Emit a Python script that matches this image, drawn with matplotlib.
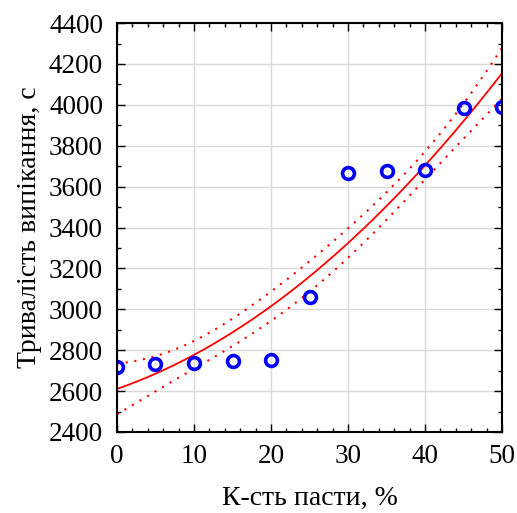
import numpy as np
import matplotlib.pyplot as plt
from matplotlib.ticker import MultipleLocator

plt.rcParams['font.family'] = ['Liberation Serif', 'DejaVu Serif']

paste = [0, 5, 10, 15, 20, 25, 30, 35, 40, 45, 50]
duration = [2720, 2730, 2735, 2745, 2752, 3060, 3668, 3675, 3682, 3985, 3990]

x = np.array(paste, dtype=float)
y = np.array(duration, dtype=float)

# квадратична регресія + довірча смуга
coef = np.polyfit(x, y, 2)
X = np.vander(x, 3)
resid = y - X @ coef
dof = len(x) - 3
s2 = resid @ resid / dof
cov = s2 * np.linalg.inv(X.T @ X)
k = 0.85  # ширина смуги, підібрана під оригінал

xs = np.linspace(0, 50, 200)
Xs = np.vander(xs, 3)
ys = Xs @ coef
se = np.sqrt(np.einsum('ij,jk,ik->i', Xs, cov, Xs))

fig = plt.figure(figsize=(5.17, 5.13), dpi=100)
ax = fig.add_axes([0.2263, 0.158, 0.7447, 0.797])

ax.plot(xs, ys, color='red', lw=1.3)
ax.plot(xs, ys + k * se, color='red', lw=1.5, ls=(0, (1, 3.2)))
ax.plot(xs, ys - k * se, color='red', lw=1.5, ls=(0, (1, 3.2)))
ax.plot(x, y, 'o', mfc='none', mec='blue', mew=2.6, ms=8.5)

ax.set_xlim(0, 50)
ax.set_ylim(2400, 4400)
ax.xaxis.set_major_locator(MultipleLocator(10))
ax.xaxis.set_minor_locator(MultipleLocator(2))
ax.yaxis.set_major_locator(MultipleLocator(200))
ax.yaxis.set_minor_locator(MultipleLocator(100))
ax.tick_params(which='both', direction='in', top=True, right=True, labelsize=19.5)
ax.tick_params(which='major', length=6, width=1)
ax.tick_params(which='minor', length=3, width=1)
ax.tick_params(axis='x', pad=9)
ax.tick_params(axis='y', pad=10)
ax.grid(True, which='major', color='#d9d9d9', lw=1)
ax.set_axisbelow(True)
for sp in ax.spines.values():
    sp.set_linewidth(1.5)

ax.set_xlabel('К-сть пасти, %', fontsize=20, labelpad=12)
ax.set_ylabel('Тривалість випікання, с', fontsize=20, labelpad=5)

fig.savefig('out.png', dpi=100)
